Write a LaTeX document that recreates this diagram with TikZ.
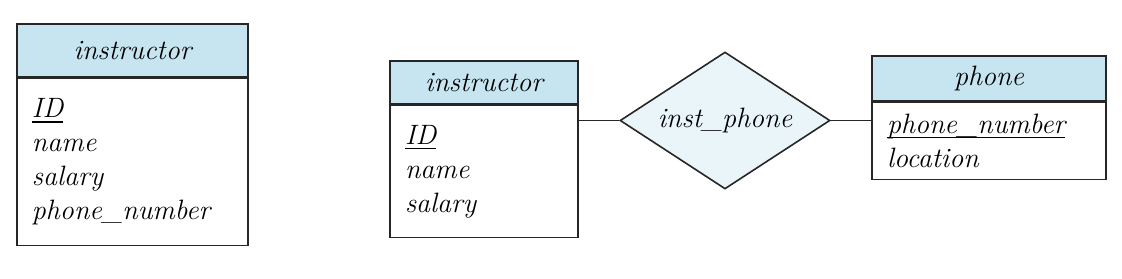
\documentclass[tikz,border=0pt]{standalone}
\usepackage{amsmath}
\usepackage{fontspec}
\usepackage{tikz}
\usetikzlibrary{shapes, positioning}
\definecolor{xHeadBox}{RGB}{199,229,240}
\definecolor{xRelBox}{RGB}{233,245,249}
\newcommand{\pkey}[1]{\underline{\smash[b]{#1}}}
\tikzset{
  hdr/.style={draw=black!85, line width=0.8pt, fill=xHeadBox, inner sep=0pt,
    font=\fontsize{14}{17}\selectfont\itshape},
  attrs/.style={draw=black!85, line width=0.8pt, fill=white, inner xsep=7.5pt, inner ysep=0pt,
    align=left, font=\fontsize{14}{17}\selectfont\itshape},
  rel/.style={diamond, aspect=1.53, draw=black!85, line width=0.8pt, fill=xRelBox, inner sep=0pt,
    font=\fontsize{14}{17}\selectfont\itshape},
}

\begin{document}
\begin{tikzpicture}[x=0.5pt, y=-0.5pt]
    \useasboundingbox (0,0) rectangle (1122,278);

    % left: instructor with phone_number as attribute
    \node[hdr, minimum width=115.5pt, minimum height=26.5pt] (inst1) at (132.5,50.5) {instructor};
    \node[attrs, below=0pt of inst1, minimum width=115.5pt, minimum height=83.5pt, text width=100.5pt] (inst1attr)
      {\pkey{ID}\\ name\\ salary\\ phone\_number};

    % right: instructor -- inst_phone -- phone
    \node[hdr, minimum width=94pt, minimum height=21.5pt] (inst2) at (484,82.5) {instructor};
    \node[attrs, below=0pt of inst2, minimum width=94pt, minimum height=66pt, text width=79pt] (inst2attr)
      {\pkey{ID}\\ name\\ salary};

    \node[rel, minimum width=105pt, minimum height=68.5pt] (instphone) at (725,120.5) {inst\_phone};

    \node[hdr, minimum width=117pt, minimum height=22.5pt] (phone) at (989,78.5) {phone};
    \node[attrs, below=0pt of phone, minimum width=117pt, minimum height=38.5pt, text width=102pt] (phoneattr)
      {\pkey{phone\_number}\\ location};

    \draw[line width=0.8pt, black!85] (instphone.west) -- (instphone.west -| inst2attr.east);
    \draw[line width=0.8pt, black!85] (instphone.east) -- (instphone.east -| phoneattr.west);
\end{tikzpicture}
\end{document}
